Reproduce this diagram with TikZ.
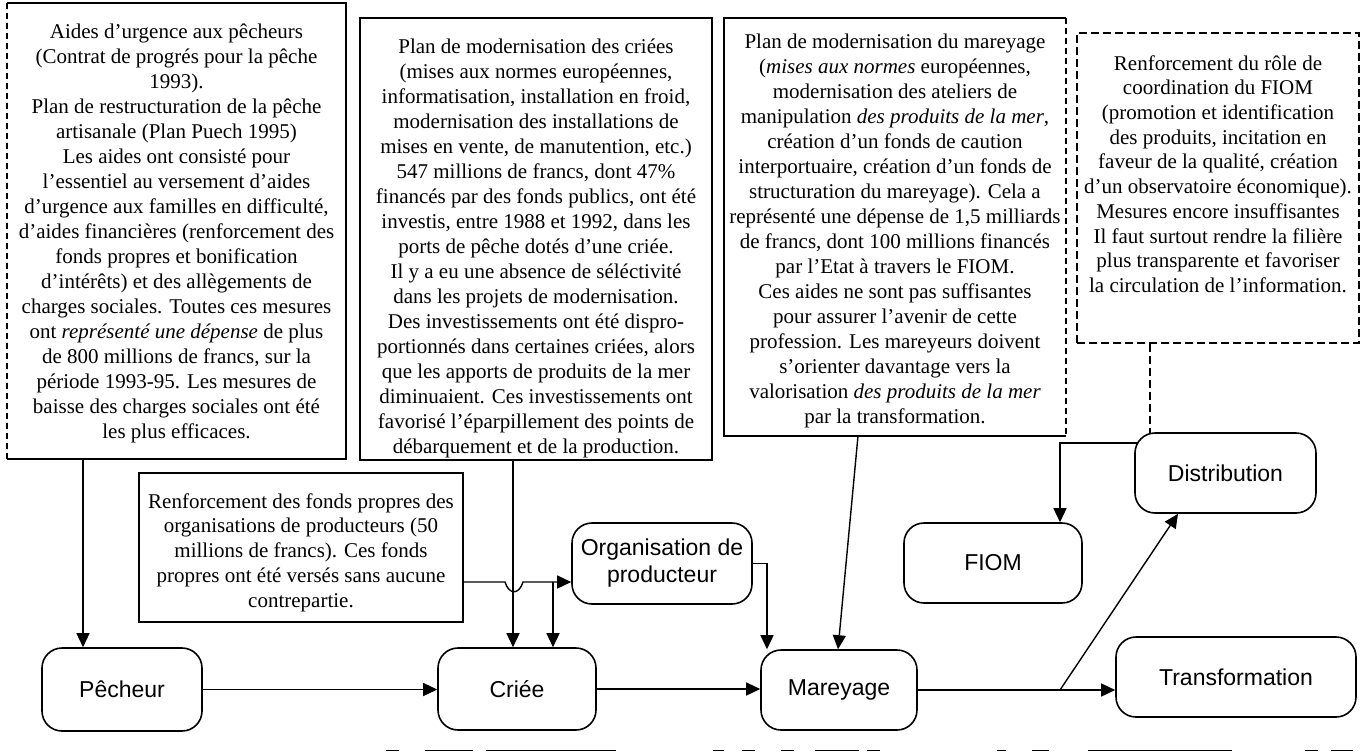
\documentclass[tikz,border=0pt]{standalone}
\usepackage{fontspec}
\setmainfont{Liberation Serif}
\newfontfamily\labelfont{Liberation Sans}
\usetikzlibrary{arrows.meta}
\begin{document}
\begin{tikzpicture}[x=0.5pt,y=-0.5pt,
  panel/.style={rectangle, inner sep=0pt, line width=0.8pt},
  boxline/.style={line width=0.8pt},
  brokenline/.style={line width=0.8pt, dash pattern=on 3pt off 2pt},
  boxtext/.style={align=center, inner sep=0pt, font=\fontsize{10.5}{12.5}\selectfont},
  stage/.style={draw, rounded corners=10pt, line width=0.8pt, inner sep=0pt, fill=white,
    font=\labelfont\fontsize{11.5}{13.5}\selectfont, align=center},
  arr/.style={line width=0.7pt, -{Triangle[length=7pt,width=6.5pt]}},
  link/.style={line width=0.7pt},
  scrap/.style={line width=0.6pt}]
\fill[white] (0,0) rectangle (1360,752);
\useasboundingbox (0,0) rectangle (1360,752);

% ---------- text panels ----------
\node[panel, minimum width=168.5pt, minimum height=227pt] (boxA) at (176.5,231) {};
\draw[boxline] (boxA.south west) -- (boxA.south east) -- (boxA.north east) -- (boxA.north west);
\draw[brokenline] (boxA.north west) -- (boxA.south west);
\node[boxtext] (tA) at (176.5,233) {Aides d'urgence aux pêcheurs\\
(Contrat de progrés pour la pêche\\
1993).\\
Plan de restructuration de la pêche\\
artisanale (Plan Puech 1995)\\
Les aides ont consisté pour\\
l'essentiel au versement d'aides\\
d'urgence aux familles en difficulté,\\
d'aides financières (renforcement des\\
fonds propres et bonification\\
d'intérêts) et des allègements de\\
charges sociales. Toutes ces mesures\\
ont \textit{représenté une dépense} de plus\\
de 800 millions de francs, sur la\\
période 1993-95. Les mesures de\\
baisse des charges sociales ont été\\
les plus efficaces.};

\node[panel, draw, minimum width=176pt, minimum height=221pt] (boxB) at (536,239) {};
\node[boxtext] (tB) at (536,248) {Plan de modernisation des criées\\
(mises aux normes européennes,\\
informatisation, installation en froid,\\
modernisation des installations de\\
mises en vente, de manutention, etc.)\\
547 millions de francs, dont 47\%\\
financés par des fonds publics, ont été\\
investis, entre 1988 et 1992, dans les\\
ports de pêche dotés d'une criée.\\
Il y a eu une absence de séléctivité\\
dans les projets de modernisation.\\
Des investissements ont été dispro-\\
portionnés dans certaines criées, alors\\
que les apports de produits de la mer\\
diminuaient. Ces investissements ont\\
favorisé l'éparpillement des points de\\
débarquement et de la production.};

\node[panel, minimum width=170pt, minimum height=208pt] (boxC) at (895,227) {};
\draw[boxline] (boxC.north east) -- (boxC.north west) -- (boxC.south west) -- (boxC.south east);
\draw[brokenline] (boxC.north east) -- (boxC.south east);
\node[boxtext] (tC) at (895,230.5) {Plan de modernisation du mareyage\\
(\textit{mises aux normes} européennes,\\
modernisation des ateliers de\\
manipulation \textit{des produits de la mer},\\
création d'un fonds de caution\\
interportuaire, création d'un fonds de\\
structuration du mareyage). Cela a\\
représenté une dépense de 1,5 milliards\\
de francs, dont 100 millions financés\\
par l'Etat à travers le FIOM.\\
Ces aides ne sont pas suffisantes\\
pour assurer l'avenir de cette\\
profession. Les mareyeurs doivent\\
s'orienter davantage vers la\\
valorisation \textit{des produits de la mer}\\
par la transformation.};

\node[panel, draw, dash pattern=on 4pt off 2pt, minimum width=141pt, minimum height=155pt] (boxD) at (1218,188) {};
\node[boxtext, font=\fontsize{10.5}{12.35}\selectfont] (tD) at (1218,174) {Renforcement du rôle de\\
coordination du FIOM\\
(promotion et identification\\
des produits, incitation en\\
faveur de la qualité, création\\
d'un observatoire économique).\\
Mesures encore insuffisantes\\
Il faut surtout rendre la filière\\
plus transparente et favoriser\\
la circulation de l'information.};

\node[panel, draw, minimum width=162pt, minimum height=74.5pt] (boxE) at (301,547.5) {};
\node[boxtext, font=\fontsize{10.5}{12.35}\selectfont] (tE) at (301,552.5) {Renforcement des fonds propres des\\
organisations de producteurs (50\\
millions de francs). Ces fonds\\
propres ont été versés sans aucune\\
contrepartie.};

% ---------- stages ----------
\node[stage, minimum width=80pt, minimum height=41.5pt] (pech) at (122,689.5) {Pêcheur};
\node[stage, minimum width=79pt, minimum height=41pt] (criee) at (517,689) {Criée};
\node[stage, minimum width=90pt, minimum height=40.5pt] (org) at (662,563.5) {Organisation de\\producteur};
\node[stage, minimum width=78pt, minimum height=40pt] (mar) at (839,690) {Mareyage};
\node[stage, minimum width=89pt, minimum height=40pt] (fiom) at (993,563) {FIOM};
\node[stage, minimum width=120pt, minimum height=40pt] (trans) at (1236,677) {Transformation};

% helper coordinates
\coordinate (xA) at (83,0);
\coordinate (xB) at (513,0);
\coordinate (xE) at (553,0);
\coordinate (yE) at (0,582);
\coordinate (xM) at (767,0);
\coordinate (xC1) at (858,0);
\coordinate (xC2) at (838,0);
\coordinate (xJ) at (1060,0);
\coordinate (xDs) at (1178,0);
\coordinate (xD) at (1150,0);
\coordinate (dcorner) at (1138,443);

% ---------- connectors ----------
\draw[arr] (boxA.south -| xA) -- (pech.north -| xA);
\draw[arr] (boxB.south -| xB) -- (criee.north -| xB);
\draw[arr] (boxE.east |- yE) -- (505,582) .. controls (509,595) and (519,595) .. (523,582) -- (org.west |- yE);
\draw[arr] (xE |- yE) -- (criee.north -| xE);
\draw[arr] (org.east) -- (org.east -| xM) -- (mar.north -| xM);
\draw[arr] (boxC.south -| xC1) -- (mar.north -| xC2);
\draw[arr] (pech.east) -- (pech.east -| criee.west);
\draw[arr] (criee.east) -- (criee.east -| mar.west);
\draw[arr] (mar.east) -- (mar.east -| trans.west);
\draw[link, dash pattern=on 4pt off 2pt] (boxD.south -| xD) -- (1150,433);
\draw[arr] (dcorner) -- (dcorner -| xJ) -- (fiom.north -| xJ);
\node[stage, minimum width=90.5pt, minimum height=40pt] (dist) at (1225.5,473) {Distribution};
\draw[arr] (mar.east -| xJ) -- (dist.south -| xDs);

% ---------- scraps of the next figure at the lower edge ----------
\foreach \a/\b in {386/399,425/473,486/616,713/724,742/755,781/794,815/859,867/880,997/1006,1032/1049,1088/1232,1305/1318,1331/1353}
  \draw[scrap] (\a,750.5) -- (\b,750.5);
\end{tikzpicture}
\end{document}
